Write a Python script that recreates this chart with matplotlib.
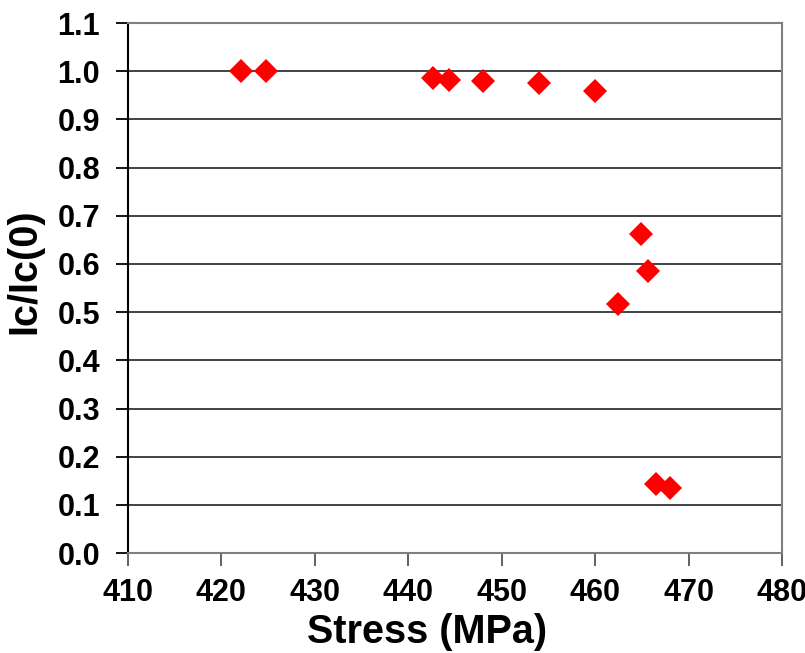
import matplotlib
matplotlib.use("Agg")
import matplotlib.pyplot as plt
from matplotlib.ticker import MultipleLocator, FormatStrFormatter

stress = [422.1, 424.8, 442.6, 444.4, 448.0, 454.0, 460.0,
          464.9, 465.7, 462.4, 466.5, 468.0]
ic_ratio = [1.000, 1.001, 0.985, 0.982, 0.980, 0.975, 0.960,
            0.662, 0.585, 0.516, 0.144, 0.136]

plt.rcParams['font.family'] = ['Liberation Sans', 'DejaVu Sans']

fig = plt.figure(figsize=(8.05, 6.53), dpi=100)
ax = fig.add_axes([0.159, 0.153, 0.8125, 0.8117])

ax.plot(stress, ic_ratio, linestyle='none', marker='D', color='#ff0000',
        markersize=12, markeredgewidth=0, zorder=3)

ax.set_xlim(410, 480)
ax.set_ylim(0.0, 1.1)
ax.xaxis.set_major_locator(MultipleLocator(10))
ax.yaxis.set_major_locator(MultipleLocator(0.1))
ax.yaxis.set_major_formatter(FormatStrFormatter('%.1f'))

ax.yaxis.grid(True, color='#222222', linewidth=1.2)
ax.set_axisbelow(True)

for side in ('bottom', 'right', 'top'):
    ax.spines[side].set_color('#808080')
    ax.spines[side].set_linewidth(1.5)
ax.spines['left'].set_color('black')
ax.spines['left'].set_linewidth(1.5)

ax.tick_params(axis='both', direction='out', length=9, width=1.3,
               labelsize=22)
ax.tick_params(axis='y', pad=11)
ax.tick_params(axis='x', pad=9, colors='#555555', labelcolor='black')
for lbl in ax.get_xticklabels() + ax.get_yticklabels():
    lbl.set_fontweight('bold')

ax.set_xlabel('Stress (MPa)', fontsize=28.5, fontweight='bold')
ax.set_ylabel('Ic/Ic(0)', fontsize=28.5, fontweight='bold')
ax.xaxis.set_label_coords(0.457, -0.113)
ax.yaxis.set_label_coords(-0.13, 0.532)

fig.savefig('out.png', dpi=100)
